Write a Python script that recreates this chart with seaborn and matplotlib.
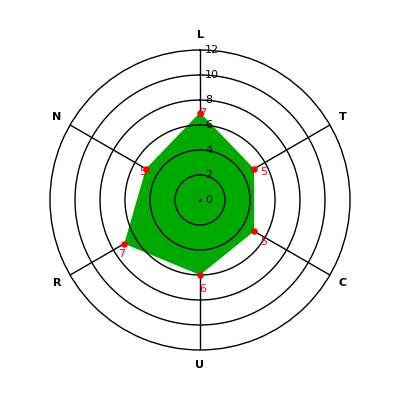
import numpy as np
import pandas as pd
import matplotlib
matplotlib.use("Agg")
import matplotlib.pyplot as plt
import seaborn as sns

categories = ["L", "T", "C", "U", "R", "N"]
values = [7, 5, 5, 6, 7, 5]
r_ticks = [0, 2, 4, 6, 8, 10, 12]

sns.set_style("white")
plt.rcParams["font.family"] = ["DejaVu Sans"]

fig = plt.figure(figsize=(4, 4), dpi=100)
ax = fig.add_axes([0.125, 0.125, 0.75, 0.75], projection="polar")
ax.set_theta_zero_location("N")
ax.set_theta_direction(-1)

n = len(categories)
angles = np.arange(n) * 2 * np.pi / n
df = pd.DataFrame({"theta": angles, "r": values, "cat": categories})

# spokes under fill
ax.set_xticks(angles)
ax.set_xticklabels([])
ax.set_yticks([])
ax.xaxis.grid(True, color="black", linewidth=1)
ax.yaxis.grid(False)
ax.xaxis.set_zorder(0.5)
ax.spines["polar"].set_color("black")
ax.spines["polar"].set_linewidth(1)
ax.set_ylim(0, r_ticks[-1])

# fill
closed_t = np.append(df["theta"].values, df["theta"].values[0])
closed_r = np.append(df["r"].values, df["r"].values[0])
ax.fill(closed_t, closed_r, color="#00aa00", zorder=1, linewidth=0)

# circles above the fill
tt = np.linspace(0, 2 * np.pi, 361)
for rv in r_ticks[1:-1]:
    ax.plot(tt, np.full_like(tt, rv, dtype=float), color="black", lw=1, zorder=2)

# markers
sns.scatterplot(data=df, x="theta", y="r", ax=ax, color="red", s=22,
                edgecolor="red", linewidth=0, zorder=4, legend=False)
ax.plot([0], [0], marker="o", ms=1.2, color="black", zorder=4)

# radial tick labels
for rv in r_ticks:
    ax.annotate(str(rv), xy=(0, rv), xytext=(5, 0), textcoords="offset pixels",
                ha="left", va="center", fontsize=8, color="black", zorder=5)

# category labels
for th, c in zip(angles, categories):
    ax.text(th, 13.2, c, ha="center", va="center", fontsize=8,
            fontweight="bold", color="black")

# value labels
for th, v in zip(angles, values):
    ux, uy = np.sin(th), np.cos(th)
    ax.annotate(str(v), xy=(th, v), xytext=(3 + 7 * ux, 7 * uy - 7),
                textcoords="offset pixels", ha="center", va="center",
                fontsize=8, color="red", zorder=5)

ax.set_xlabel("")
ax.set_ylabel("")
fig.savefig("out.png", dpi=100, facecolor="white")
